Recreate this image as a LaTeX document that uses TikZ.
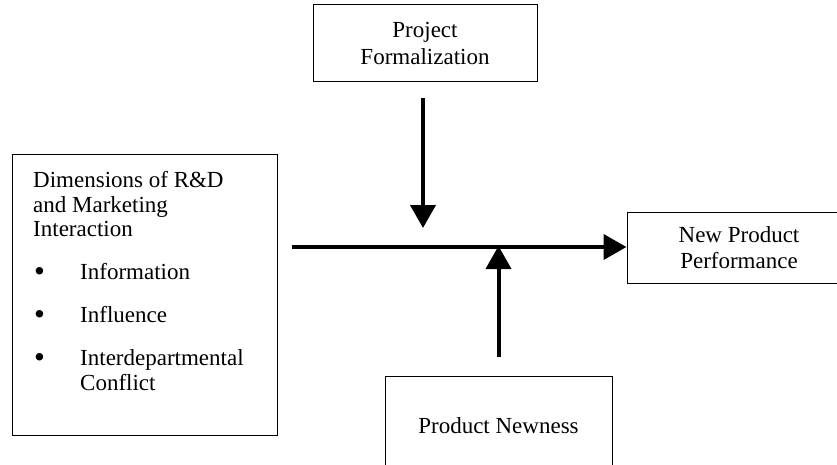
\documentclass[tikz,border=0pt]{standalone}
\usepackage{fontspec}
\usepackage{graphicx}
\setmainfont{Liberation Serif}
\usetikzlibrary{positioning,calc,arrows.meta}

\newcommand{\dimbullet}{\hspace*{1pt}\makebox[46pt][l]{\raisebox{-1.5pt}{\scalebox{1.35}{\textbullet}}}}

\tikzset{
  block/.style={draw, line width=1pt, inner sep=0pt},
  boxtext/.style={font=\fontsize{23}{26.5}\selectfont, align=center, inner sep=0pt},
  flow/.style={line width=4pt, -{Triangle[width=25pt,length=23pt]}},
}

\begin{document}
\begin{tikzpicture}[x=1pt,y=-1pt]
  \useasboundingbox (0,0) rectangle (837,465);
  % boxes
  \node[block, boxtext, minimum width=224pt, minimum height=77pt] (formal) at (425,43.5) {Project\\Formalization};
  \node[block, minimum width=265pt, minimum height=280pt] (dims) at (144.5,295) {};
  \node[block, boxtext, minimum width=224pt, minimum height=71pt] (perf) at (739,247.5) {New Product\\Performance};
  \node[block, boxtext, minimum width=227pt, minimum height=100pt] (newness) at (498.5,426) {Product Newness};
  % text of the left box
  \node[boxtext, align=left, anchor=north west, font=\fontsize{23}{24.5}\selectfont] (dimstext) at (33,171.5)
    {Dimensions of R\&D\\
     and Marketing\\
     Interaction\\[18.5pt]
     \dimbullet Information\\[18.5pt]
     \dimbullet Influence\\[18.5pt]
     \dimbullet Interdepartmental\\
     \hspace*{47pt}Conflict};
  % arrows
  \coordinate (linestart) at (292,247);
  \coordinate (downend) at (423,228);
  \coordinate (upend) at (498.5,246);
  \draw[flow] (linestart) -- (perf.west |- linestart);
  \draw[flow, shorten <=16pt] (formal.south -| downend) -- (downend);
  \draw[flow, shorten <=19pt] (newness.north) -- (upend);
\end{tikzpicture}
\end{document}
